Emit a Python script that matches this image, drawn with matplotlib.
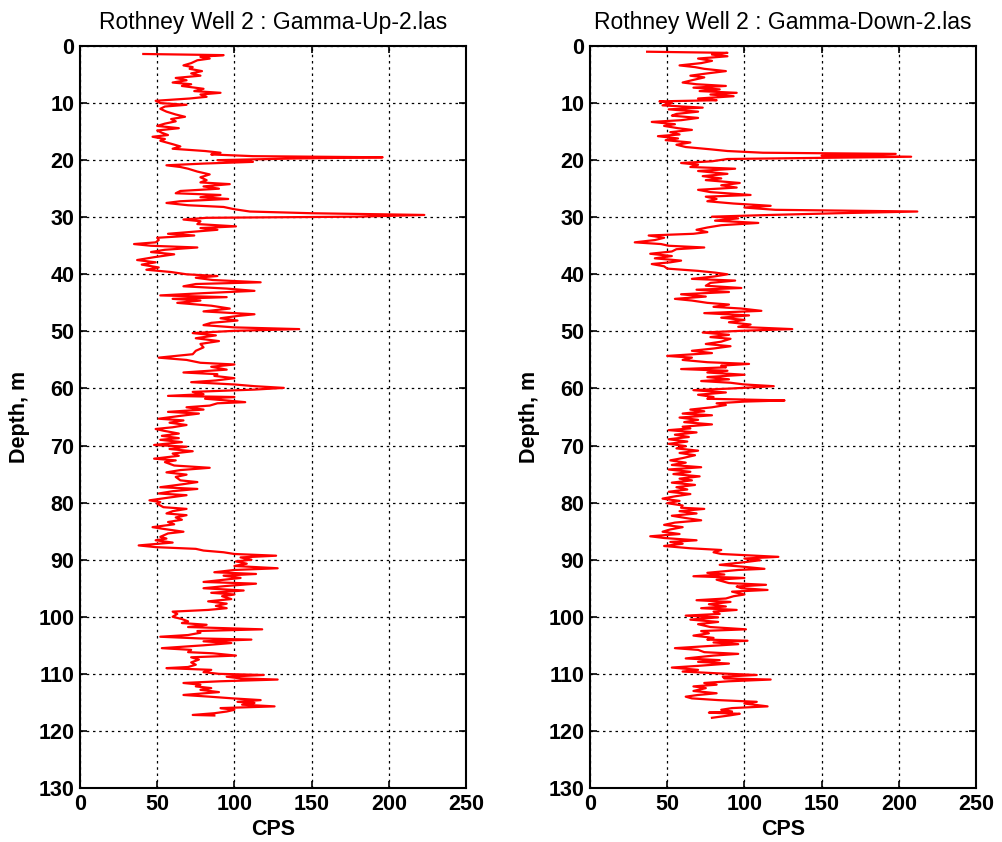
import matplotlib
matplotlib.use("Agg")
import matplotlib.pyplot as plt
import numpy as np

plt.rcParams['font.family'] = ['Liberation Sans', 'DejaVu Sans']

titles = ["Rothney Well 2 : Gamma-Up-2.las", "Rothney Well 2 : Gamma-Down-2.las"]
x_label = "CPS"
y_label = "Depth, m"
x_ticks = [0, 50, 100, 150, 200, 250]
y_ticks = list(range(0, 131, 10))

up_depth = [1.4,1.6,1.9,2.2,2.5,3.0,3.4,3.7,4.0,4.4,4.8,5.2,5.6,6.0,6.4,6.7,7.0,7.5,7.9,8.2,8.5,8.9,9.2,9.6,10.0,10.3,10.6,11.0,11.5,12.0,12.4,12.8,13.2,13.6,14.0,14.4,14.8,15.2,15.6,15.9,16.3,16.6,17.2,17.6,18.0,18.4,18.7,19.0,19.3,19.5,19.7,20.0,20.3,20.6,20.9,21.2,21.5,22.0,22.5,23.0,23.5,23.9,24.2,24.6,25.0,25.4,25.8,26.1,26.5,26.8,27.2,27.5,27.9,28.2,28.6,29.0,29.3,29.6,29.9,30.1,30.4,30.7,31.2,31.6,31.9,32.2,32.5,32.9,33.2,33.6,34.0,34.4,34.7,35.0,35.3,35.7,36.1,36.5,37.0,37.5,37.9,38.3,38.8,39.2,39.6,40.0,40.3,40.6,41.0,41.4,41.7,42.1,42.5,42.9,43.3,43.7,44.0,44.3,44.6,45.0,45.5,46.0,46.5,47.0,47.3,47.7,48.1,48.5,48.9,49.3,49.6,49.9,50.3,50.7,51.2,51.7,52.2,52.8,53.4,54.0,54.6,55.0,55.5,55.8,56.2,56.7,57.2,57.5,57.8,58.2,58.6,58.9,59.3,59.6,59.9,60.2,60.6,61.0,61.3,61.5,61.8,62.1,62.4,62.6,63.0,63.3,63.7,64.1,64.4,64.8,65.3,65.6,66.0,66.4,66.8,67.1,67.4,67.9,68.3,68.7,69.0,69.4,69.9,70.2,70.6,71.0,71.4,71.8,72.3,72.6,72.9,73.5,73.9,74.3,74.7,75.1,75.5,76.1,76.4,76.8,77.3,77.6,78.0,78.4,78.7,79.1,79.6,79.9,80.2,80.8,81.1,81.5,81.9,82.2,82.6,83.0,83.4,83.8,84.3,84.6,85.1,85.4,86.0,86.3,86.6,87.0,87.5,87.8,88.1,88.4,88.7,89.0,89.3,89.6,90.0,90.3,90.7,91.1,91.5,91.8,92.2,92.5,92.8,93.2,93.6,93.9,94.2,94.6,95.0,95.4,95.8,96.1,96.4,96.9,97.3,97.7,98.1,98.5,98.8,99.1,99.5,100.0,100.4,100.8,101.1,101.4,101.8,102.2,102.5,102.8,103.2,103.5,103.8,104.0,104.3,104.6,105.0,105.5,105.8,106.2,106.4,106.8,107.1,107.5,108.0,108.4,108.8,109.0,109.3,109.7,110.0,110.2,110.5,110.8,111.0,111.3,111.6,111.9,112.2,112.5,112.8,113.2,113.7,114.0,114.3,114.6,114.9,115.1,115.4,115.7,116.0,116.3,116.6,116.9,117.2,117.3]
up_cps = [41,93,78,84,76,72,67,73,71,79,72,78,62,69,60,72,66,80,74,91,78,82,71,49,52,69,55,52,56,62,68,59,62,55,50,64,50,53,57,47,55,52,60,65,60,81,91,85,112,196,140,89,112,80,56,65,70,76,84,78,82,78,97,80,90,65,62,91,78,96,65,56,70,93,100,110,150,223,180,82,67,78,76,101,78,89,75,57,74,50,51,49,35,46,76,55,46,61,48,37,49,40,51,43,59,69,89,75,86,117,75,67,95,113,80,52,95,60,78,63,85,97,80,113,102,91,102,85,80,100,142,100,73,88,75,90,78,80,75,73,51,69,78,100,85,95,67,89,87,100,88,72,100,113,132,113,73,80,57,100,81,95,107,89,84,69,80,57,77,65,51,67,58,69,60,49,54,64,53,64,52,66,48,69,58,73,60,64,48,62,55,61,84,65,56,69,62,65,76,66,52,76,60,51,69,58,45,52,50,54,69,60,56,69,62,66,57,61,47,54,67,57,52,56,49,60,38,49,75,80,93,100,127,104,111,101,108,100,128,100,87,114,93,104,90,80,114,95,80,106,85,100,92,98,83,95,88,95,83,60,63,60,66,70,66,82,70,118,76,78,70,52,78,111,80,98,80,53,72,70,86,101,72,77,72,75,70,56,85,80,90,119,95,104,128,91,67,78,75,85,78,90,67,84,99,117,102,113,105,126,91,100,95,87,73,87]

down_depth = [1.0,1.2,1.5,1.8,2.2,2.6,3.0,3.4,3.7,4.0,4.4,4.8,5.2,5.5,6.0,6.4,6.7,7.0,7.3,7.6,7.9,8.2,8.5,8.8,9.2,9.5,9.7,10.0,10.4,10.8,11.1,11.5,11.9,12.2,12.6,13.0,13.3,13.7,14.0,14.4,14.7,15.1,15.5,15.8,16.2,16.5,16.9,17.3,17.7,18.1,18.4,18.7,18.9,19.2,19.4,19.6,19.8,20.2,20.5,20.8,21.2,21.5,21.9,22.4,22.8,23.2,23.5,24.0,24.4,24.8,25.2,25.6,26.1,26.4,26.8,27.2,27.6,28.0,28.3,28.7,29.0,29.3,29.6,29.9,30.2,30.6,31.0,31.4,31.8,32.2,32.6,32.9,33.2,33.6,34.0,34.4,34.7,35.0,35.3,35.6,36.0,36.4,36.8,37.2,37.6,37.9,38.2,38.6,39.0,39.4,39.7,40.0,40.4,40.8,41.1,41.5,42.0,42.4,42.7,43.1,43.5,43.9,44.3,44.6,45.0,45.3,45.7,46.0,46.4,46.8,47.2,47.6,48.0,48.4,48.8,49.2,49.6,49.9,50.2,50.6,51.0,51.3,51.8,52.2,52.6,53.0,53.4,53.8,54.3,54.6,55.0,55.4,55.7,56.0,56.3,56.6,56.9,57.2,57.6,58.0,58.4,58.7,59.0,59.3,59.6,60.0,60.3,60.7,61.1,61.5,61.8,62.1,62.3,62.6,62.9,63.3,63.7,64.0,64.4,64.7,65.1,65.5,65.9,66.3,66.7,67.0,67.3,67.7,68.1,68.5,68.9,69.3,69.7,70.1,70.5,70.9,71.3,71.7,72.2,72.6,73.0,73.4,73.8,74.2,74.6,75.0,75.4,75.8,76.1,76.5,76.9,77.3,77.7,78.1,78.5,78.9,79.3,79.7,80.1,80.5,80.9,81.1,81.5,81.9,82.3,82.7,83.1,83.5,83.9,84.3,84.7,85.1,85.5,85.9,86.2,86.6,86.9,87.2,87.6,88.0,88.3,88.7,89.0,89.3,89.5,89.8,90.1,90.5,90.9,91.2,91.6,91.8,92.3,92.6,92.9,93.2,93.5,94.1,94.4,94.7,95.0,95.3,95.6,96.1,96.4,96.8,97.1,97.4,97.8,98.2,98.5,98.8,99.1,99.5,99.8,100.1,100.5,100.9,101.3,101.8,102.2,102.5,102.9,103.3,103.7,104.0,104.2,104.5,104.8,105.2,105.5,105.8,106.2,106.5,106.8,107.3,107.6,107.9,108.2,108.6,108.9,109.3,109.6,109.9,110.2,110.5,110.8,111.0,111.3,111.6,111.9,112.2,112.5,113.0,113.4,113.7,114.0,114.3,114.6,114.9,115.2,115.7,116.0,116.3,116.6,116.8,117.0,117.3,117.7]
down_cps = [37,89,79,89,70,79,72,58,68,74,88,76,65,74,66,60,69,88,67,84,71,95,78,93,70,82,45,53,47,73,51,70,56,53,70,59,40,55,48,57,66,52,58,44,57,49,65,56,62,78,89,112,198,150,208,147,89,79,59,70,65,94,70,89,73,85,75,97,85,95,70,78,104,75,82,76,93,117,100,120,212,160,117,79,96,81,109,85,76,69,76,67,38,48,42,29,46,51,74,56,53,39,53,42,59,52,40,48,50,70,81,89,80,66,94,78,75,98,69,90,59,75,55,66,76,90,80,98,111,74,103,85,100,90,104,96,131,98,73,90,78,91,85,75,91,80,66,79,50,66,60,76,103,85,88,59,89,76,100,76,90,72,91,100,119,92,67,88,70,80,76,126,100,82,88,79,65,74,60,79,58,70,61,79,60,65,51,69,55,64,51,63,51,62,56,70,58,68,60,52,62,53,72,51,65,54,71,58,66,53,68,56,63,51,65,55,47,58,50,60,59,74,58,69,53,62,72,55,48,60,52,47,58,39,48,69,52,60,48,65,85,80,85,107,122,100,110,98,84,98,113,96,76,87,67,100,82,90,114,95,98,115,92,100,93,88,69,91,77,88,72,95,80,84,62,83,65,83,70,78,101,72,77,67,80,76,102,80,96,72,55,70,74,96,80,62,84,70,90,70,53,70,60,82,108,86,87,117,90,74,82,67,75,67,82,70,62,66,83,108,100,115,92,85,92,77,97,90,79]

fig = plt.figure(figsize=(10.02, 8.42), dpi=100)
positions = [[80/1002, 1-788/842, 386/1002, 742/842],
             [590/1002, 1-788/842, 386/1002, 742/842]]
series = [(up_cps, up_depth), (down_cps, down_depth)]

for pos, (xs, ds), title in zip(positions, series, titles):
    ax = fig.add_axes(pos)
    ax.plot(xs, ds, color='red', lw=1.6)
    ax.set_xlim(0, 250)
    ax.set_ylim(130, 0)
    ax.set_xticks(x_ticks)
    ax.set_yticks(y_ticks)
    ax.grid(True, color='black', linestyle=(0, (2, 3)), linewidth=0.9)
    ax.tick_params(direction='in', length=5, width=1.2, top=True, right=True,
                   labelsize=15.5, pad=4)
    for lab in ax.get_xticklabels() + ax.get_yticklabels():
        lab.set_fontweight('bold')
    for sp in ax.spines.values():
        sp.set_linewidth(1.5)
    ax.set_title(title, fontsize=16.5, pad=12)
    ax.set_xlabel(x_label, fontsize=15.5, fontweight='bold', labelpad=3)
    ax.set_ylabel(y_label, fontsize=15.5, fontweight='bold', labelpad=6)

fig.savefig("out.png", dpi=100)
